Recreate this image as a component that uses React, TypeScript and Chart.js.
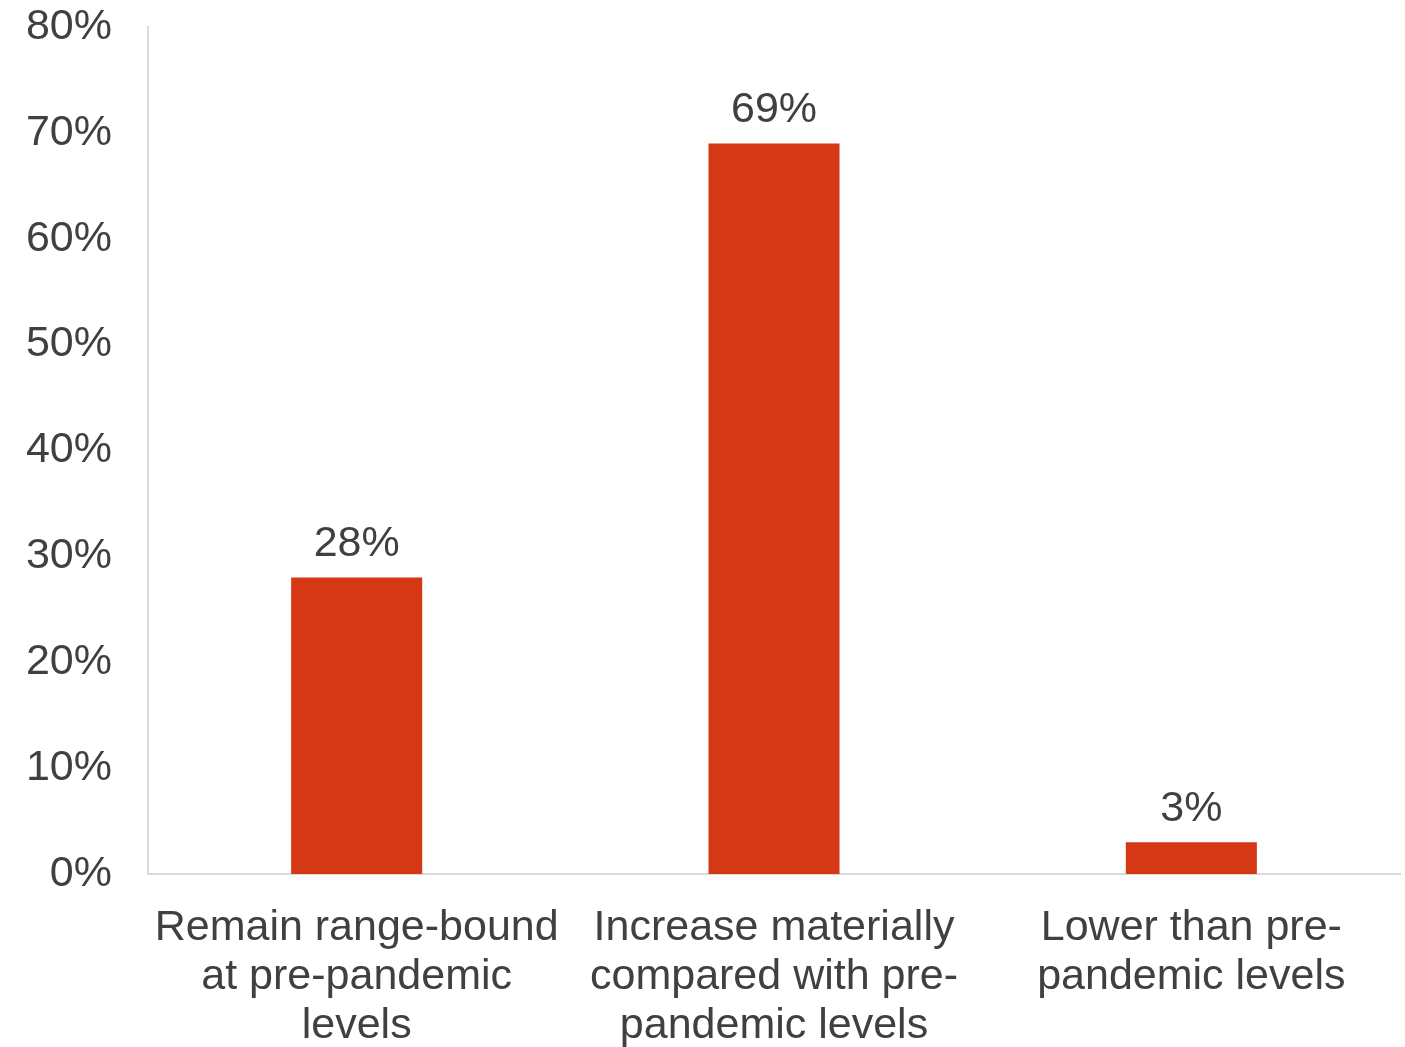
import React, { useEffect, useRef } from "react";
import { Chart, registerables } from "chart.js";

Chart.register(...registerables);

const categories: string[][] = [
  ["Remain range-bound", "at pre-pandemic", "levels"],
  ["Increase materially", "compared with pre-", "pandemic levels"],
  ["Lower than pre-", "pandemic levels"],
];
const values: number[] = [28, 69, 3];
const yTicks = { min: 0, max: 80, step: 10 };

const TEXT = "#404040";
const BAR = "#D43815";
const AXIS = "#D9D9D9";
const FONT = "'Liberation Sans', Arial, sans-serif";
const FS = 43;

const valueLabels = {
  id: "valueLabels",
  afterDatasetsDraw(chart: any) {
    const ctx = chart.ctx;
    const meta = chart.getDatasetMeta(0);
    ctx.save();
    ctx.fillStyle = TEXT;
    ctx.font = `${FS}px ${FONT}`;
    ctx.textAlign = "center";
    ctx.textBaseline = "middle";
    meta.data.forEach((el: any, i: number) => {
      ctx.fillText(`${values[i]}%`, el.x, el.y - 33);
    });
    ctx.restore();
  },
};

export default function App() {
  const ref = useRef<HTMLCanvasElement>(null);
  useEffect(() => {
    document.body.style.margin = "0";
    const chart = new Chart(ref.current!, {
      type: "bar",
      data: {
        labels: categories,
        datasets: [
          {
            data: values,
            backgroundColor: BAR,
            barPercentage: 0.314,
            categoryPercentage: 1,
          },
        ],
      },
      options: {
        responsive: false,
        animation: false,
        layout: { padding: { top: 0, right: 5, left: 0, bottom: 0 } },
        plugins: { legend: { display: false }, tooltip: { enabled: false } },
        scales: {
          x: {
            grid: { display: false, drawTicks: false },
            border: { display: true, color: AXIS, width: 2 },
            ticks: {
              color: TEXT,
              font: { family: FONT, size: FS, lineHeight: 1.14 },
              padding: 30,
              maxRotation: 0,
              autoSkip: false,
            },
            afterFit: (s: any) => {
              s.height = 173;
            },
          },
          y: {
            min: yTicks.min,
            max: yTicks.max,
            grid: { display: false, drawTicks: false },
            border: { display: true, color: AXIS, width: 2 },
            ticks: {
              stepSize: yTicks.step,
              color: TEXT,
              font: { family: FONT, size: FS },
              padding: 36,
              callback: (v: any) => `${v}%`,
            },
            afterFit: (s: any) => {
              s.width = 148;
              s.paddingTop = 27;
              s.paddingBottom = 0;
            },
          },
        },
      },
      plugins: [valueLabels],
    });
    return () => chart.destroy();
  }, []);
  return (
    <div style={{ width: 1405, height: 1047 }}>
      <canvas ref={ref} width={1405} height={1047} />
    </div>
  );
}
